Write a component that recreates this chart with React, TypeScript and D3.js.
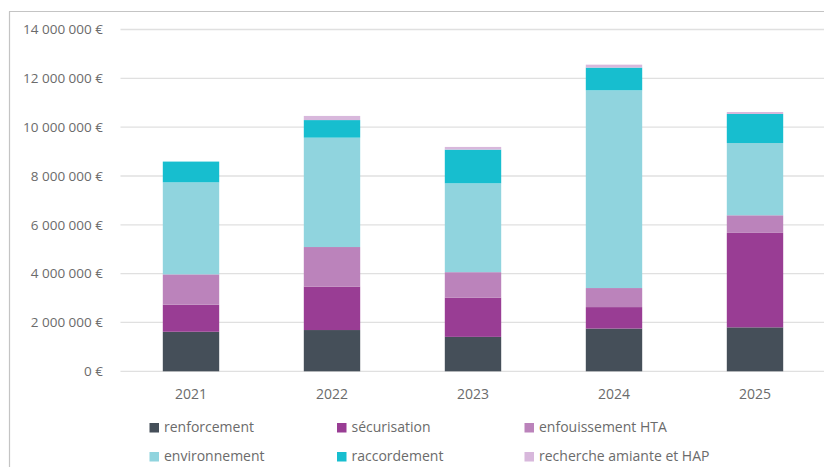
import React from "react";
import * as d3 from "d3";

const years = ["2021", "2022", "2023", "2024", "2025"];
const seriesNames = [
  "renforcement",
  "sécurisation",
  "enfouissement HTA",
  "environnement",
  "raccordement",
  "recherche amiante et HAP",
];
const renforcement = [1620000, 1690000, 1410000, 1750000, 1800000];
const securisation = [1110000, 1780000, 1610000, 880000, 3870000];
const enfouissementHTA = [1240000, 1620000, 1040000, 780000, 720000];
const environnement = [3770000, 4480000, 3640000, 8100000, 2960000];
const raccordement = [850000, 720000, 1380000, 930000, 1190000];
const rechercheAmiante = [0, 170000, 110000, 120000, 80000];
const colors = ["#454f59", "#993d94", "#bb83bb", "#90d4de", "#17becf", "#d8b8dc"];
const yTicks = [0, 2000000, 4000000, 6000000, 8000000, 10000000, 12000000, 14000000];

const W = 824;
const H = 467;
const FONT = "'Open Sans', sans-serif";
const TXT = "#6b6b6b";

export default function App() {
  const seriesValues = [
    renforcement,
    securisation,
    enfouissementHTA,
    environnement,
    raccordement,
    rechercheAmiante,
  ];
  const table = years.map((y, i) => {
    const row: any = { year: y };
    seriesNames.forEach((s, k) => (row[s] = seriesValues[k][i]));
    return row;
  });
  const stacked = d3.stack().keys(seriesNames)(table);
  const x = d3.scaleBand().domain(years).range([120.5, 825.5]).paddingInner(0.6).paddingOuter(0.3);
  const y = d3.scaleLinear().domain([0, 14000000]).range([371.3, 29.5]);
  const loc = d3.formatLocale({ decimal: ",", thousands: "\u00a0", grouping: [3], currency: ["", " €"] });
  const fmt = loc.format(",");

  const legendCols = [149.5, 337, 524.5];
  const legendRows = [427.5, 456.5];

  return (
    <svg
      width={W}
      height={H}
      style={{ position: "absolute", left: 0, top: 0, background: "#fff" }}
      fontFamily={FONT}
    >
      <rect x={0} y={0} width={W} height={H} fill="#fff" />
      <line x1={9.5} x2={9.5} y1={11.5} y2={H} stroke="#c4c4c4" strokeWidth={1.2} />
      <line x1={9} x2={W} y1={11.5} y2={11.5} stroke="#c4c4c4" strokeWidth={1.2} />
      {yTicks.map((t) => (
        <g key={t}>
          <line x1={120.5} x2={W} y1={y(t)} y2={y(t)} stroke="#e0e0e0" strokeWidth={1.3} />
          <text x={103} y={y(t)} dy="0.35em" textAnchor="end" fontSize={13.5} fill={TXT}>
            {fmt(t) + "\u00a0€"}
          </text>
        </g>
      ))}
      {stacked.map((layer, k) => (
        <g key={layer.key} fill={colors[k]}>
          {layer.map((d, i) => (
            <rect
              key={i}
              x={x(years[i])}
              width={x.bandwidth()}
              y={y(d[1])}
              height={Math.max(0, y(d[0]) - y(d[1]))}
            />
          ))}
        </g>
      ))}
      {years.map((yr) => (
        <text
          key={yr}
          x={(x(yr) as number) + x.bandwidth() / 2}
          y={394}
          dy="0.35em"
          textAnchor="middle"
          fontSize={14}
          fill={TXT}
        >
          {yr}
        </text>
      ))}
      {seriesNames.map((s, k) => {
        const cx = legendCols[k % 3];
        const cy = legendRows[Math.floor(k / 3)];
        return (
          <g key={s}>
            <rect x={cx} y={cy - 4.5} width={9.5} height={9.5} fill={colors[k]} />
            <text x={cx + 14.5} y={cy} dy="0.35em" fontSize={14} fill={TXT}>
              {s}
            </text>
          </g>
        );
      })}
    </svg>
  );
}
